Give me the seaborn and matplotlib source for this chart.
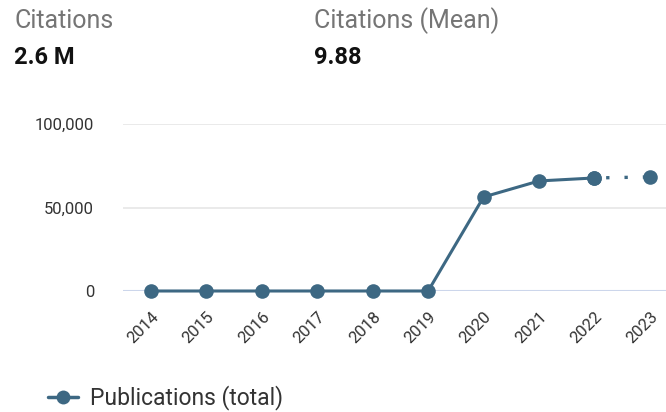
import numpy as np
import pandas as pd
import matplotlib.pyplot as plt
import seaborn as sns
from matplotlib.lines import Line2D
from matplotlib.ticker import FuncFormatter

years = [2014, 2015, 2016, 2017, 2018, 2019, 2020, 2021, 2022, 2023]
publications = [0, 0, 0, 0, 0, 0, 56300, 65900, 67700, 68300]
# last year is incomplete -> drawn dotted
n_complete = 9

stat_labels = ['Citations', 'Citations (Mean)']
stat_values = ['2.6 M', '9.88']

LINE_COLOR = '#3d6883'

if __name__ == '__main__':
    sns.set_style('white')
    plt.rcParams['font.family'] = ['Roboto', 'DejaVu Sans']

    df = pd.DataFrame({'year': years, 'pubs': publications})
    df_solid = df.iloc[:n_complete]
    df_dot = df.iloc[n_complete - 1:]

    fig = plt.figure(figsize=(6.66, 4.12), dpi=100)
    ax = fig.add_axes([0.185, 0.2937, 0.815, 0.4053])

    sns.lineplot(data=df_solid, x='year', y='pubs', ax=ax, color=LINE_COLOR,
                 linewidth=2.2, marker='o', markersize=10.5, markeredgewidth=0,
                 clip_on=False, zorder=3)
    sns.lineplot(data=df_dot, x='year', y='pubs', ax=ax, color=LINE_COLOR,
                 linewidth=2.4, linestyle=(2, (1, 4.5)), marker='o', markersize=10.5,
                 markeredgewidth=0, clip_on=False, zorder=3)

    ax.set_xlim(2013.5, 2023.29)
    ax.set_ylim(0, 100000)
    ax.set_yticks([0, 50000, 100000])
    ax.yaxis.set_major_formatter(FuncFormatter(lambda v, p: f'{int(v):,}'))
    ax.set_xticks(years)
    ax.set_xticklabels([str(y) for y in years], rotation=45, ha='right',
                       rotation_mode='anchor')
    ax.set_xlabel('')
    ax.set_ylabel('')

    ax.grid(axis='y', color='#e6e6e6', linewidth=1.2)
    ax.axhline(0, color='#ccd6eb', linewidth=1.5, zorder=1)
    ax.spines[['top', 'bottom', 'left', 'right']].set_visible(False)
    ax.tick_params(axis='y', length=0, labelsize=12, labelcolor='#333333', pad=21)
    ax.tick_params(axis='x', length=0, labelsize=12, labelcolor='#333333', pad=13)

    # header stats
    for i, (lab, val) in enumerate(zip(stat_labels, stat_values)):
        x0 = 14 / 666 + i * 300 / 666
        fig.text(x0, 1 - 21 / 412, lab, fontsize=18, color='#757575',
                 va='center', ha='left')
        fig.text(x0, 1 - 57 / 412, val, fontsize=17, color='#111111',
                 va='center', ha='left', weight='semibold')

    handle = Line2D([0], [0], color=LINE_COLOR, linewidth=2.5, marker='o',
                    markersize=10, markeredgewidth=0)
    fig.legend(handles=[handle], labels=['Publications (total)'],
               loc='center left', bbox_to_anchor=(48 / 666, 1 - 398 / 412),
               frameon=False, fontsize=16.5, handlelength=1.3, handletextpad=0.55,
               borderpad=0, borderaxespad=0, labelcolor='#333333')

    fig.savefig('out.png', dpi=100, facecolor='white')
